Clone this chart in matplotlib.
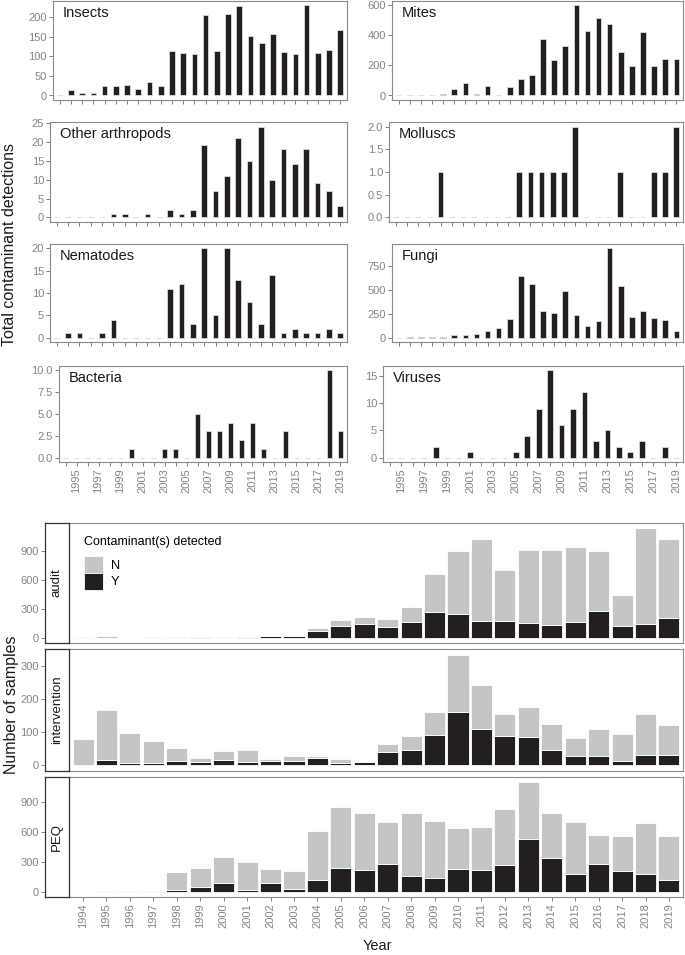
import matplotlib
matplotlib.use('Agg')
import matplotlib.pyplot as plt
import numpy as np
from matplotlib.patches import Patch

plt.rcParams['font.family'] = ['Liberation Sans', 'DejaVu Sans']

# ---------------- data ----------------
years = list(range(1994, 2020))

insects = [0, 13, 7, 7, 24, 24, 26, 16, 34, 25, 113, 109, 105, 205, 114, 209, 229, 152, 135, 156, 112, 107, 230, 109, 117, 167]
mites = [0, 0, 0, 2, 8, 45, 80, 10, 65, 3, 57, 110, 135, 375, 235, 330, 595, 425, 515, 470, 290, 193, 420, 198, 242, 240]
other_arthropods = [0, 0, 0, 0, 0, 1, 1, 0, 1, 0, 2, 1, 2, 19, 7, 11, 21, 15, 24, 10, 18, 14, 18, 9, 7, 3]
molluscs = [0, 0, 0, 0, 1, 0, 0, 0, 0, 0, 0, 1, 1, 1, 1, 1, 2, 0, 0, 0, 1, 0, 0, 1, 1, 2]
nematodes = [0, 1, 1, 0, 1, 4, 0, 0, 0, 0, 11, 12, 3, 20, 5, 20, 13, 8, 3, 14, 1, 2, 1, 1, 2, 1]
fungi = [0, 2, 3, 2, 5, 25, 25, 35, 70, 100, 200, 650, 560, 280, 260, 490, 240, 125, 170, 940, 545, 215, 285, 210, 180, 65]
bacteria = [0, 0, 0, 0, 0, 0, 1, 0, 0, 1, 1, 0, 5, 3, 3, 4, 2, 4, 1, 0, 3, 0, 0, 0, 10, 3]
viruses = [0, 0, 0, 0, 2, 0, 0, 1, 0, 0, 0, 1, 4, 9, 16, 6, 9, 12, 3, 5, 2, 1, 3, 0, 2, 0]

audit_Y = [0, 0, 0, 0, 0, 3, 0, 5, 12, 20, 65, 120, 145, 105, 160, 268, 245, 170, 170, 150, 135, 160, 275, 115, 140, 205]
audit_N = [3, 12, 0, 3, 8, 10, 5, 12, 6, 10, 30, 60, 65, 90, 155, 398, 660, 852, 535, 760, 780, 780, 621, 325, 995, 825]
intervention_Y = [0, 15, 6, 6, 12, 10, 16, 10, 13, 12, 22, 8, 10, 40, 45, 92, 160, 108, 88, 84, 46, 27, 27, 14, 30, 30]
intervention_N = [78, 153, 92, 66, 40, 11, 27, 35, 5, 16, 5, 11, 4, 23, 43, 68, 173, 134, 65, 91, 78, 56, 83, 81, 125, 90]
peq_Y = [0, 0, 0, 0, 20, 45, 85, 15, 85, 28, 113, 235, 218, 280, 158, 133, 226, 213, 265, 530, 343, 180, 275, 212, 172, 118]
peq_N = [0, 5, 8, 8, 180, 195, 262, 278, 145, 175, 499, 620, 577, 423, 632, 582, 414, 439, 570, 570, 449, 520, 293, 348, 518, 447]

# ---------------- style ----------------
W, H = 685, 955
fig = plt.figure(figsize=(W / 100, H / 100), dpi=100)

BLACK = '#231f20'
GREY = '#c4c5c7'
BORDER = '#8a8a8a'
TICKC = '#7f7f7f'
LABC = '#858585'
TS = 8


def ax_px(x0, y0, x1, y1, **kw):
    return fig.add_axes([x0 / W, 1 - y1 / H, (x1 - x0) / W, (y1 - y0) / H], **kw)


def style_border(ax, color=BORDER, lw=0.8):
    for s in ax.spines.values():
        s.set_color(color)
        s.set_linewidth(lw)


# ---------------- top panels ----------------
top_panels = [
    ('Insects', insects, (53, 1, 347, 100), [0, 50, 100, 150, 200], '{:.0f}', False),
    ('Mites', mites, (392, 1, 683, 100), [0, 200, 400, 600], '{:.0f}', False),
    ('Other arthropods', other_arthropods, (50, 122, 347, 222), [0, 5, 10, 15, 20, 25], '{:.0f}', False),
    ('Molluscs', molluscs, (389, 122, 683, 222), [0, 0.5, 1.0, 1.5, 2.0], '{:.1f}', False),
    ('Nematodes', nematodes, (50, 244, 347, 342), [0, 5, 10, 15, 20], '{:.0f}', False),
    ('Fungi', fungi, (392, 244, 683, 342), [0, 250, 500, 750], '{:.0f}', False),
    ('Bacteria', bacteria, (59, 366, 347, 462), [0, 2.5, 5.0, 7.5, 10.0], '{:.1f}', True),
    ('Viruses', viruses, (383, 366, 683, 462), [0, 5, 10, 15], '{:.0f}', True),
]

for name, vals, box, yt, fmt, showx in top_panels:
    ax = ax_px(*box)
    ax.bar(years, vals, width=0.5, color=BLACK, edgecolor='#dcdcdc', linewidth=0.6)
    vmax = max(vals)
    ax.set_ylim(-0.05 * vmax, 1.05 * vmax)
    ax.set_xlim(1993.4, 2019.6)
    ax.set_yticks(yt)
    ax.set_yticklabels([fmt.format(v) for v in yt])
    ax.set_xticks(years)
    if showx:
        ax.set_xticklabels([str(y) if y % 2 == 1 else '' for y in years], rotation=90)
    else:
        ax.set_xticklabels([])
    ax.tick_params(axis='both', colors=TICKC, labelcolor=LABC, labelsize=TS,
                   length=2.8, width=0.7, pad=1.5)
    style_border(ax)
    ax.annotate(name, xy=(0, 1), xycoords='axes fraction', xytext=(7.2, -3.5),
                textcoords='offset points', ha='left', va='top', fontsize=10.5,
                color='#1a1a1a')

fig.text(10 / W, 1 - 245 / H, 'Total contaminant detections', rotation=90,
         ha='center', va='center', fontsize=11.5, color='#1a1a1a')

# ---------------- bottom panels ----------------
bottom_panels = [
    ('audit', audit_Y, audit_N, (523, 643), [0, 300, 600, 900], False),
    ('intervention', intervention_Y, intervention_N, (649, 771), [0, 100, 200, 300], False),
    ('PEQ', peq_Y, peq_N, (777, 897), [0, 300, 600, 900], True),
]

xpos = np.arange(len(years))
for name, yv, nv, (y0, y1), yt, showx in bottom_panels:
    ax = ax_px(69, y0, 683, y1)
    sax = ax_px(45, y0, 69, y1, sharey=ax)
    yv = np.array(yv)
    nv = np.array(nv)
    ax.bar(xpos, yv, width=0.9, color=BLACK, edgecolor='white', linewidth=0.6, label='Y')
    ax.bar(xpos, nv, bottom=yv, width=0.9, color=GREY, edgecolor='white', linewidth=0.6, label='N')
    tot = (yv + nv).max()
    ax.set_ylim(-0.05 * tot, 1.05 * tot)
    ax.set_xlim(-0.6, len(years) - 0.4)
    ax.tick_params(axis='y', left=False, labelleft=False)
    if showx:
        ax.set_xticks(xpos)
        ax.set_xticklabels([str(y) for y in years], rotation=90)
        ax.tick_params(axis='x', colors=TICKC, labelcolor=LABC, labelsize=TS,
                       length=2.8, width=0.7, pad=1.5)
    else:
        ax.set_xticks([])
    style_border(ax)

    sax.set_xticks([])
    sax.set_yticks(yt)
    sax.set_yticklabels([str(v) for v in yt])
    sax.tick_params(axis='y', colors=TICKC, labelcolor=LABC, labelsize=TS,
                    length=2.8, width=0.7, pad=1.5)
    style_border(sax, color='#333333', lw=0.9)
    sax.text(0.5, 0.5, name, rotation=90, ha='center', va='center',
             transform=sax.transAxes, fontsize=9.5, color='#1a1a1a')

    if name == 'audit':
        handles = [Patch(facecolor=GREY, edgecolor='white', linewidth=0.6, label='N'),
                   Patch(facecolor=BLACK, edgecolor='white', linewidth=0.6, label='Y')]
        leg = ax.legend(handles=handles, title='Contaminant(s) detected',
                        loc='upper left', bbox_to_anchor=(84 / W, 1 - 536 / H),
                        bbox_transform=fig.transFigure, frameon=False,
                        fontsize=9.3, title_fontsize=9, handlelength=1.5,
                        handleheight=1.6, labelspacing=0.0, handletextpad=0.6,
                        borderpad=0, borderaxespad=0, alignment='left')
        leg._legend_box.sep = 6

fig.text(12 / W, 1 - 705 / H, 'Number of samples', rotation=90,
         ha='center', va='center', fontsize=11.5, color='#1a1a1a')
fig.text(377 / W, 1 - 946 / H, 'Year', ha='center', va='center',
         fontsize=10.5, color='#1a1a1a')

fig.savefig('out.png', dpi=100)
